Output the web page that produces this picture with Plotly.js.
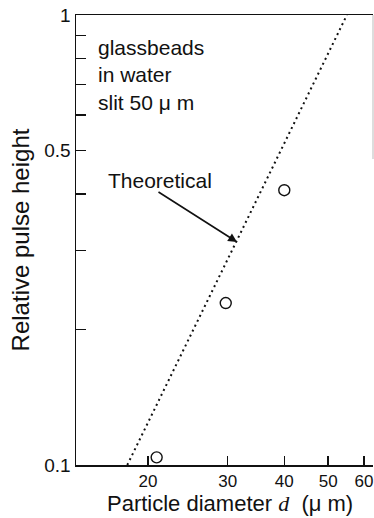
<!DOCTYPE html>
<html>
<head>
<meta charset="utf-8">
<script src="https://cdn.plot.ly/plotly-3.0.1.min.js"></script>
<style>html,body{margin:0;padding:0;background:#fff;}#chart{width:374px;height:518px;}</style>
</head>
<body>
<div id="chart"></div>
<script>
// Measured data (glass beads in water, slit 50 μm)
const diameters = [20.9, 29.7, 40.0];
const pulseHeights = [0.104, 0.229, 0.408];

// Theoretical line endpoints
const theoryD = [18.0, 55.0];
const theoryH = [0.1, 1.0];

// Axis ticks
const xTickVals = [20, 30, 40, 50, 60];
const xTickText = ['20', '30', '40', '50', '60'];
const yTickVals = [0.1, 0.2, 0.3, 0.4, 0.5, 0.6, 0.7, 0.8, 0.9, 1];
const yTickText = ['0.1', '', '', '', '0.5', '', '', '', '', '1'];

const FONT = 'Liberation Sans, Arial, sans-serif';

const traces = [
  {
    x: theoryD, y: theoryH, type: 'scatter', mode: 'lines',
    line: {color: '#111', width: 2, dash: '2px,3.5px'},
    hoverinfo: 'skip', showlegend: false
  },
  {
    x: diameters, y: pulseHeights, type: 'scatter', mode: 'markers',
    marker: {symbol: 'circle-open', size: 11, color: '#111', line: {width: 1.4, color: '#111'}},
    cliponaxis: false, showlegend: false
  }
];

const layout = {
  width: 374, height: 518,
  margin: {l: 76, r: 1, t: 15, b: 53},
  paper_bgcolor: '#fff', plot_bgcolor: '#fff',
  font: {family: FONT, color: '#111', size: 19},
  showlegend: false,
  xaxis: {
    type: 'log', range: [1.142, 1.798],
    tickmode: 'array', tickvals: xTickVals, ticktext: xTickText,
    ticks: 'inside', ticklen: 9, tickwidth: 1.5, tickcolor: '#111',
    showline: true, linecolor: '#111', linewidth: 1.5, mirror: true,
    showgrid: false, zeroline: false, ticklabeloverflow: 'allow',
    tickfont: {size: 17, family: FONT},
    title: {text: ''}
  },
  yaxis: {
    type: 'log', range: [-1, 0],
    tickmode: 'array', tickvals: yTickVals, ticktext: yTickText,
    ticks: 'inside', ticklen: 10, tickwidth: 1.5, tickcolor: '#111',
    showline: true, linecolor: '#111', linewidth: 1.5,
    showgrid: false, zeroline: false,
    tickfont: {size: 19, family: FONT},
    title: {text: 'Relative pulse height', font: {size: 24, family: FONT}, standoff: 8}
  },
  shapes: [
    {type: 'line', xref: 'paper', yref: 'paper', x0: 1, x1: 1, y0: 1, y1: 0.68,
     line: {color: '#bbb', width: 1}}
  ],
  annotations: [
    {xref: 'paper', yref: 'paper', x: (230 - 76) / 297, y: (465 - 518) / 450,
     xanchor: 'center', yanchor: 'bottom', showarrow: false,
     font: {size: 22, family: FONT},
     text: 'Particle diameter <span style="font-family:Liberation Serif;font-style:italic">d</span>  (μ m)'},
    {xref: 'paper', yref: 'paper', x: 0.067, y: 0.867, xanchor: 'left', yanchor: 'middle',
     align: 'left', showarrow: false, font: {size: 21, family: FONT},
     text: 'glassbeads<br>in water<br>slit 50 μ m'},
    {xref: 'paper', yref: 'paper', x: 0.283, y: 0.633, xanchor: 'center', yanchor: 'middle',
     showarrow: false, font: {size: 21, family: FONT}, text: 'Theoretical'},
    {xref: 'paper', yref: 'paper', x: (237 - 76) / 297, y: (465 - 242) / 450,
     text: '', showarrow: true, ax: -80, ay: -51, arrowhead: 2, arrowsize: 1.1,
     arrowwidth: 1.6, arrowcolor: '#111', standoff: 0}
  ]
};

Plotly.newPlot('chart', traces, layout, {displayModeBar: false, staticPlot: true});
</script>
</body>
</html>
